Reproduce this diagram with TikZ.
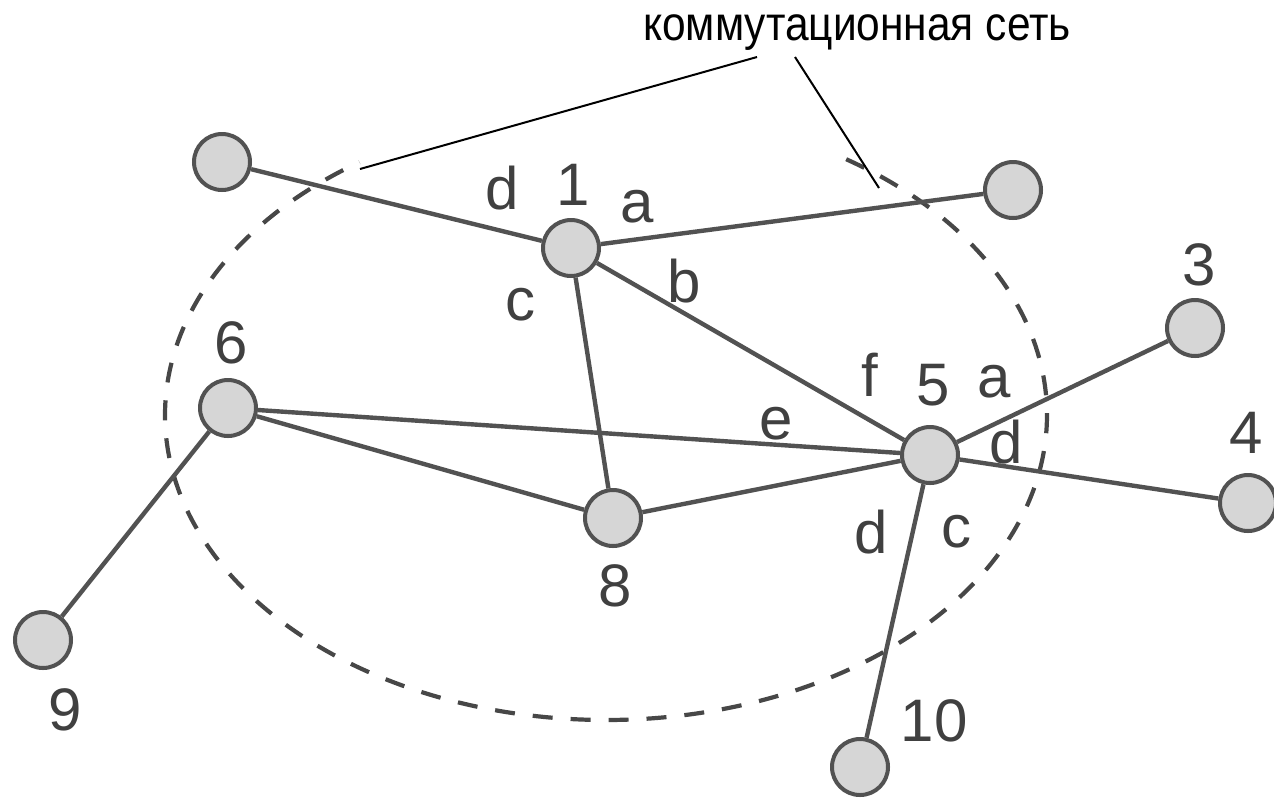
\documentclass[tikz,border=0pt]{standalone}
\usepackage{fontspec}
\setmainfont{Liberation Sans}
\newfontfamily\capfont[FakeStretch=0.885]{Liberation Sans}
\begin{document}
\begin{tikzpicture}[x=0.5pt,y=-0.5pt,
  vtx/.style={circle, draw=black!68, line width=2pt, fill=black!16, minimum size=28pt, inner sep=0pt},
  link/.style={draw=black!68, line width=2.2pt},
  lbl/.style={text=black!75, font=\fontsize{30pt}{30pt}\selectfont, inner sep=0pt},
  net/.style={draw=black!72, line width=2.1pt, dash pattern=on 10pt off 9pt},
  ptr/.style={draw=black, line width=1pt}]
\useasboundingbox (0,0) rectangle (1274,799);

% dashed boundary of the switching network
\draw[net] plot[domain=-57:236, samples=240, smooth] ({606+441*cos(\x)}, {415+305*sin(\x)});

% vertices
\node[vtx] (tl) at (222,162) {};
\node[vtx] (n1) at (571,248) {};
\node[vtx] (tr) at (1013,190) {};
\node[vtx] (n3) at (1195,328) {};
\node[vtx] (n6) at (228,408) {};
\node[vtx] (n5) at (930,455) {};
\node[vtx] (n4) at (1248,503) {};
\node[vtx] (n8) at (613,518) {};
\node[vtx] (n9) at (43,640) {};
\node[vtx] (n10) at (860,767) {};

% links
\draw[link] (tl) -- (n1);
\draw[link] (n1) -- (tr);
\draw[link] (n1) -- (n5);
\draw[link] (n1) -- (n8);
\draw[link] (n6) -- (n5);
\draw[link] (n6) -- (n8);
\draw[link] (n8) -- (n5);
\draw[link] (n6) -- (n9);
\draw[link] (n5) -- (n3);
\draw[link] (n5) -- (n4);
\draw[link] (n5) -- (n10);

% labels
\node[lbl] (l1) at (573,185) {1};
\node[lbl] (l1d) at (502,188) {d};
\node[lbl] (l1a) at (637,207) {a};
\node[lbl] (l1b) at (684,281) {b};
\node[lbl] (l1c) at (520,305) {c};
\node[lbl] (l6) at (231,343) {6};
\node[lbl] (l5) at (933,385) {5};
\node[lbl] (l5f) at (870,375) {f};
\node[lbl] (l5a) at (994,382) {a};
\node[lbl] (l5d) at (1006,442) {d};
\node[lbl] (l5e) at (776,424) {e};
\node[lbl] (l5dd) at (871,532) {d};
\node[lbl] (l5c) at (956,532) {c};
\node[lbl] (l3) at (1199,265) {3};
\node[lbl] (l4) at (1246,433) {4};
\node[lbl] (l8) at (615,586) {8};
\node[lbl] (l9) at (65,710) {9};
\node[lbl] (l10) at (934,721) {10};

% caption with pointers
\node[font=\capfont\fontsize{24pt}{24pt}\selectfont, inner sep=0pt, anchor=base] (cap) at (857,40) {коммутационная сеть};
\coordinate (p1s) at (757,57);
\coordinate (p1e) at (360,169);
\coordinate (p2s) at (795,57);
\coordinate (p2e) at (879,188);
\draw[ptr] (p1s) -- (p1e);
\draw[ptr] (p2s) -- (p2e);
\end{tikzpicture}
\end{document}
